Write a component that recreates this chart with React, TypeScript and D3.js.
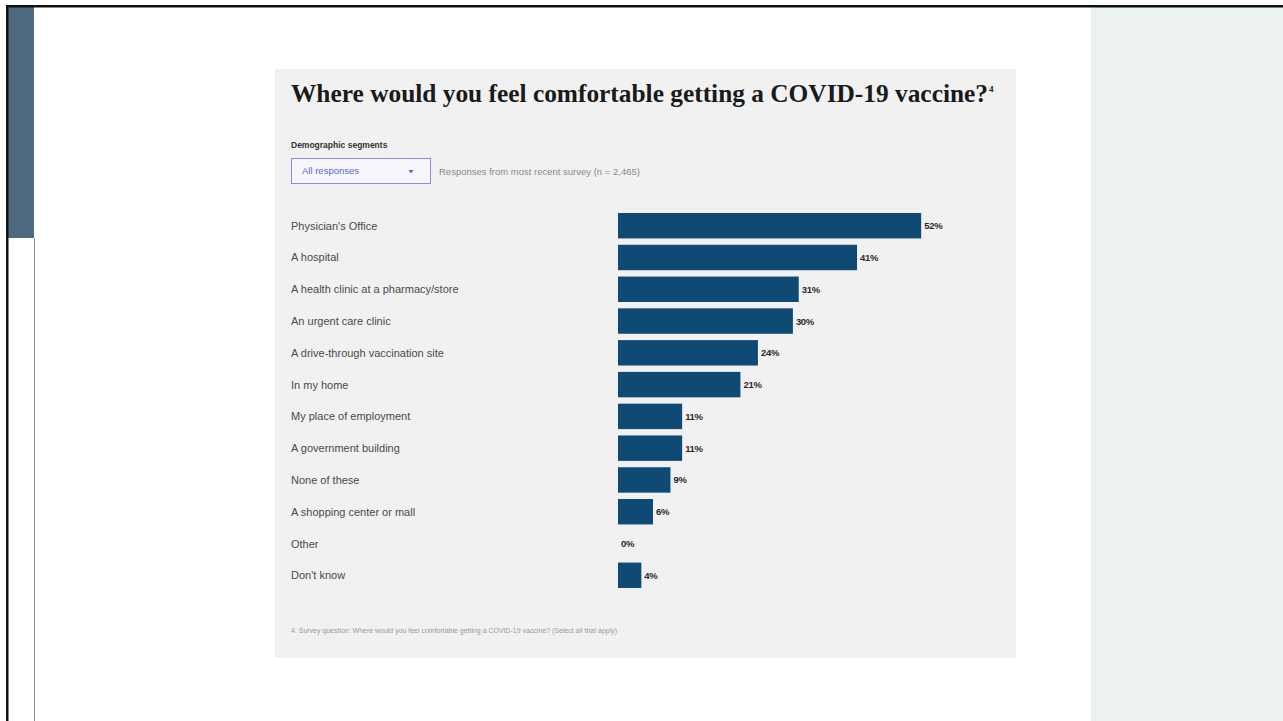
import React from "react";
import * as d3 from "d3";

const categories = [
  "Physician's Office",
  "A hospital",
  "A health clinic at a pharmacy/store",
  "An urgent care clinic",
  "A drive-through vaccination site",
  "In my home",
  "My place of employment",
  "A government building",
  "None of these",
  "A shopping center or mall",
  "Other",
  "Don't know",
];
const values = [52, 41, 31, 30, 24, 21, 11, 11, 9, 6, 0, 4];

const title = "Where would you feel comfortable getting a COVID-19 vaccine?";
const footnote =
  "4. Survey question: Where would you feel comfortable getting a COVID-19 vaccine? (Select all that apply)";

const W = 1283;
const H = 721;

export default function App() {
  const x = d3.scaleLinear().domain([0, 100]).range([618, 618 + 583]);
  const y = d3
    .scaleBand<string>()
    .domain(categories)
    .range([213, 588])
    .paddingInner(0.2)
    .paddingOuter(0);
  const sans = "'Liberation Sans', Arial, sans-serif";

  return (
    <svg
      width={W}
      height={H}
      style={{ position: "absolute", left: 0, top: 0, display: "block" }}
    >
      <rect x={0} y={0} width={W} height={H} fill="#ffffff" />
      {/* right light panel */}
      <rect x={1091} y={7} width={W - 1091} height={H - 7} fill="#ecf1f2" />
      {/* slate block on left */}
      <rect x={8} y={7} width={26} height={231} fill="#4e6a80" />
      <line x1={34.5} y1={238} x2={34.5} y2={H} stroke="#7a90a2" strokeWidth={1} />
      {/* black frame */}
      <rect x={6} y={5} width={W - 6} height={2.5} fill="#111" />
      <rect x={6} y={5} width={2.5} height={H - 5} fill="#111" />

      {/* chart card */}
      <rect x={275} y={69} width={741} height={589} fill="#f1f1f1" />

      <text
        x={291}
        y={102}
        fontFamily="'Liberation Serif', 'Times New Roman', serif"
        fontWeight="bold"
        fontSize={25}
        fill="#1a1a1a"
        textLength={697}
        lengthAdjust="spacingAndGlyphs"
      >
        {title}
      </text>
      <text
        x={989}
        y={92}
        fontFamily="'Liberation Serif', serif"
        fontWeight="bold"
        fontSize={9}
        fill="#1a1a1a"
      >
        4
      </text>

      <text x={291} y={148} fontFamily={sans} fontWeight="bold" fontSize={8.5} fill="#333">
        Demographic segments
      </text>
      <rect
        x={291.5}
        y={158.5}
        width={139}
        height={25}
        fill="#f7f7fb"
        stroke="#8a8ee6"
        strokeWidth={1}
      />
      <text x={302} y={174} fontFamily={sans} fontSize={9.5} fill="#5b5fd6">
        All responses
      </text>
      <path d="M408.5,170 L413.5,170 L411,173.5 Z" fill="#5b5fd6" />
      <text x={439} y={175} fontFamily={sans} fontSize={9.5} fill="#8a8a8a">
        Responses from most recent survey (n = 2,465)
      </text>

      {categories.map((c, i) => {
        const yy = y(c) as number;
        const bw = y.bandwidth();
        const v = values[i];
        return (
          <g key={c}>
            <text
              x={291}
              y={yy + bw / 2 + 4}
              fontFamily={sans}
              fontSize={11}
              fill="#4a4a4a"
            >
              {c}
            </text>
            {v > 0 && (
              <rect x={x(0)} y={yy} width={x(v) - x(0)} height={bw} fill="#0e4a73" />
            )}
            <text
              x={x(v) + 3}
              y={yy + bw / 2 + 3.5}
              fontFamily={sans}
              fontSize={9.5}
              fontWeight="bold"
              fill="#2a2a2a"
              letterSpacing={-0.3}
            >
              {v}%
            </text>
          </g>
        );
      })}

      <text x={291} y={633} fontFamily={sans} fontSize={7.5} fill="#9a9a9a" textLength={326} lengthAdjust="spacingAndGlyphs">
        {footnote}
      </text>
    </svg>
  );
}
